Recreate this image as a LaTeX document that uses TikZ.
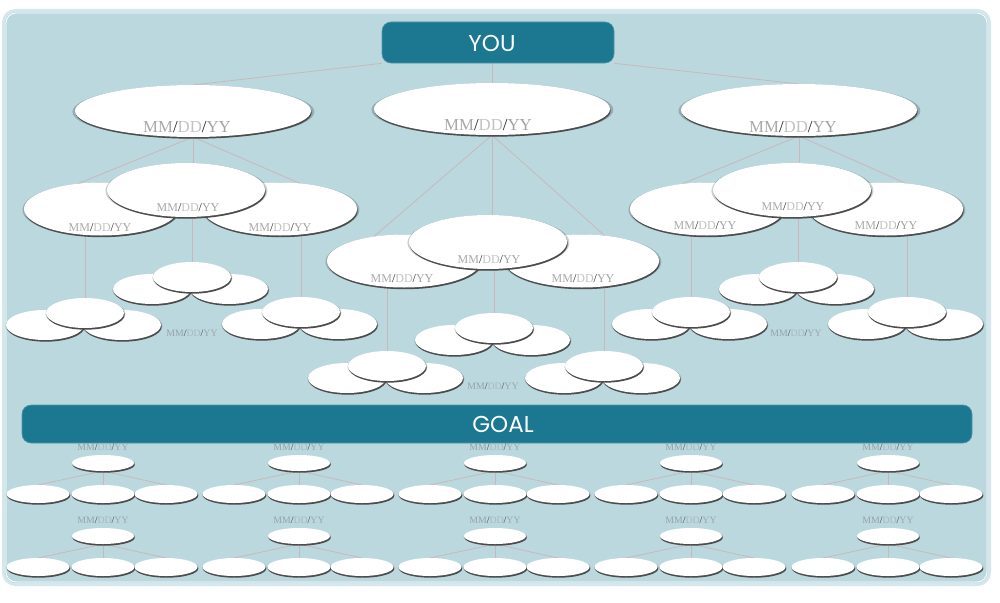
\documentclass[tikz,border=0pt]{standalone}
\usepackage{fontspec}
\setmainfont{Liberation Serif}
\newfontfamily\headfont{Poppins}
\usetikzlibrary{shapes.geometric,shadows}
\definecolor{panel}{HTML}{BBD8DF}
\definecolor{panelrim}{HTML}{D3E7EC}
\definecolor{barc}{HTML}{1C7891}
\definecolor{barrim}{HTML}{4F97AA}
\definecolor{link}{HTML}{C9B8B8}
\definecolor{mmc}{HTML}{A9A9A9}
\definecolor{ddc}{HTML}{C2C2C2}
\definecolor{yyc}{HTML}{A3A3A3}
\definecolor{slc}{HTML}{222222}
\definecolor{mmb}{HTML}{97A3A8}
\definecolor{ddb}{HTML}{A6B9C0}
\definecolor{yyb}{HTML}{9AA6AB}
\definecolor{slb}{HTML}{333A3D}
\newcommand\mdy{\textcolor{mmc}{MM}\textcolor{slc}{/}\textcolor{ddc}{DD}\textcolor{slc}{/}\textcolor{yyc}{YY}}
\newcommand\mdyb{\textcolor{mmb}{MM}\textcolor{slb}{/}\textcolor{ddb}{DD}\textcolor{slb}{/}\textcolor{yyb}{YY}}
\pgfdeclarelayer{back}
\pgfdeclarelayer{wires}
\pgfsetlayers{back,wires,main}
\tikzset{
  ov/.style={ellipse, fill=white, inner sep=0pt, outer sep=0pt,
    general shadow={shadow scale=1.025, shadow xshift=0.4pt, shadow yshift=-0.8pt, fill=black, opacity=0.2},
    drop shadow={shadow xshift=0.7pt, shadow yshift=-1.7pt, fill=black!70, opacity=1}},
  big/.style={ov, minimum width=236pt, minimum height=52pt},
  l2/.style={ov, minimum width=154pt, minimum height=53pt},
  l2m/.style={ov, minimum width=158pt, minimum height=54pt},
  l3/.style={ov, minimum width=78pt, minimum height=30pt},
  m2/.style={ov, minimum width=62pt, minimum height=16pt},
  m3/.style={ov, minimum width=63pt, minimum height=18pt},
  wire/.style={draw=link, line width=0.8pt},
  bar/.style={rectangle, rounded corners=9pt, fill=barc, draw=barrim, line width=0.6pt, inner sep=0pt},
  head/.style={text=white, font=\headfont\fontsize{23}{26}\selectfont, inner sep=0pt},
  t1/.style={font=\fontsize{16.8}{18}\selectfont, inner sep=0pt},
  t2/.style={font=\fontsize{12}{13}\selectfont, inner sep=0pt},
  t3/.style={font=\fontsize{9.8}{11}\selectfont, inner sep=0pt},
}
\newcommand\trio[3]{%
  \node[l3] (#1L) at ({#2-40},{#3+12}) {};
  \node[l3] (#1R) at ({#2+37},{#3+12}) {};
  \node[l3] (#1M) at (#2,#3) {};}
\newcommand\mini[3]{%
  \node[t3] (#1lab) at (#2,{#3-16}) {\mdyb};
  \node[m3] (#1l) at ({#2-65},{#3+31}) {};
  \node[m3] (#1c) at (#2,{#3+31}) {};
  \node[m3] (#1r) at ({#2+63},{#3+31}) {};
  \node[m2] (#1t) at (#2,#3) {};
  \begin{pgfonlayer}{wires}
  \draw[wire] (#1t.south) -- (#1l.north);
  \draw[wire] (#1t.south) -- (#1c.north);
  \draw[wire] (#1t.south) -- (#1r.north);
  \end{pgfonlayer}}
\begin{document}
\begin{tikzpicture}[x=1pt,y=-1pt]
\useasboundingbox (0,0) rectangle (1000,602);
\begin{pgfonlayer}{back}
  \fill[white] (0,0) rectangle (1000,602);
  \draw[panelrim, line width=3pt, fill=panel, rounded corners=12pt] (3.5,10.5) rectangle (989.5,584.5);
  \draw[white, line width=0.8pt, rounded corners=10pt] (6,13) rectangle (987,582);
\end{pgfonlayer}

% bars
\node[bar, minimum width=232pt, minimum height=41pt] (you) at (498,42.5) {};
\node[head] (youtxt) at (492,43) {YOU};
\node[bar, minimum width=950pt, minimum height=38pt] (goal) at (497,424) {};
\node[head] (goaltxt) at (503,424) {GOAL};

% level 1
\node[big] (Aa) at (193,111) {}; \node[t1] (Aat) at (187,127) {\mdy};
\node[big] (Ba) at (492,109) {}; \node[t1] (Bat) at (488,125) {\mdy};
\node[big] (Ca) at (799,110) {}; \node[t1] (Cat) at (793,127) {\mdy};

% level 2
\node[l2] (AbL) at (101,209) {}; \node[t2] (AbLt) at (100,228) {\mdy};
\node[l2] (AbR) at (280,209) {}; \node[t2] (AbRt) at (280,228) {\mdy};
\node[l2m] (AbM) at (186,190) {}; \node[t2] (AbMt) at (188,208) {\mdy};

\node[l2] (BbL) at (404,261) {}; \node[t2] (BbLt) at (402,279) {\mdy};
\node[l2] (BbR) at (582,261) {}; \node[t2] (BbRt) at (583,279) {\mdy};
\node[l2m] (BbM) at (488,242) {}; \node[t2] (BbMt) at (489,260) {\mdy};

\node[l2] (CbL) at (707,209) {}; \node[t2] (CbLt) at (705,226) {\mdy};
\node[l2] (CbR) at (886,209) {}; \node[t2] (CbRt) at (886,226) {\mdy};
\node[l2m] (CbM) at (792,190) {}; \node[t2] (CbMt) at (793,207) {\mdy};

% level 3
\trio{Ac}{85}{313}
\trio{Ad}{192}{277}
\trio{Ae}{301}{312}
\node[t3] (Alab) at (192,333) {\mdyb};
\trio{Bc}{387}{366}
\trio{Bd}{494}{328}
\trio{Be}{604}{366}
\node[t3] (Blab) at (493,386) {\mdyb};
\trio{Cc}{691}{312}
\trio{Cd}{798}{277}
\trio{Ce}{907}{312}
\node[t3] (Clab) at (796,333) {\mdyb};

% goal grid
\mini{Pa}{103}{463}
\mini{Pb}{299}{463}
\mini{Pc}{495}{463}
\mini{Pd}{691}{463}
\mini{Pe}{888}{463}
\mini{Qa}{103}{536}
\mini{Qb}{299}{536}
\mini{Qc}{495}{536}
\mini{Qd}{691}{536}
\mini{Qe}{888}{536}

\begin{pgfonlayer}{wires}
  \draw[wire] (you.south west) -- (Aa.north);
  \draw[wire] (Ba.north |- you.south) -- (Ba.north);
  \draw[wire] (you.south east) -- (Ca.north);

  \draw[wire] (Aa.south) -- (AbL.133);
  \draw[wire] (Aa.south) -- (Aa.south |- AbM.north);
  \draw[wire] (Aa.south) -- (AbR.52);
  \draw[wire] (AcM.north) -- (AcM.north |- AbL.south);
  \draw[wire] (AdM.north) -- (AdM.north |- AbM.south);
  \draw[wire] (AeM.north) -- (AeM.north |- AbR.south);

  \draw[wire] (Ba.south) -- (BbL.141);
  \draw[wire] (Ba.south) -- (Ba.south |- BbM.north);
  \draw[wire] (Ba.south) -- (BbR.48);
  \draw[wire] (BcM.north) -- (BcM.north |- BbL.south);
  \draw[wire] (BdM.north) -- (BdM.north |- BbM.south);
  \draw[wire] (BeM.north) -- (BeM.north |- BbR.south);

  \draw[wire] (Ca.south) -- (CbL.135);
  \draw[wire] (Ca.south) -- (Ca.south |- CbM.north);
  \draw[wire] (Ca.south) -- (CbR.52);
  \draw[wire] (CcM.north) -- (CcM.north |- CbL.south);
  \draw[wire] (CdM.north) -- (CdM.north |- CbM.south);
  \draw[wire] (CeM.north) -- (CeM.north |- CbR.south);
\end{pgfonlayer}
\end{tikzpicture}
\end{document}
